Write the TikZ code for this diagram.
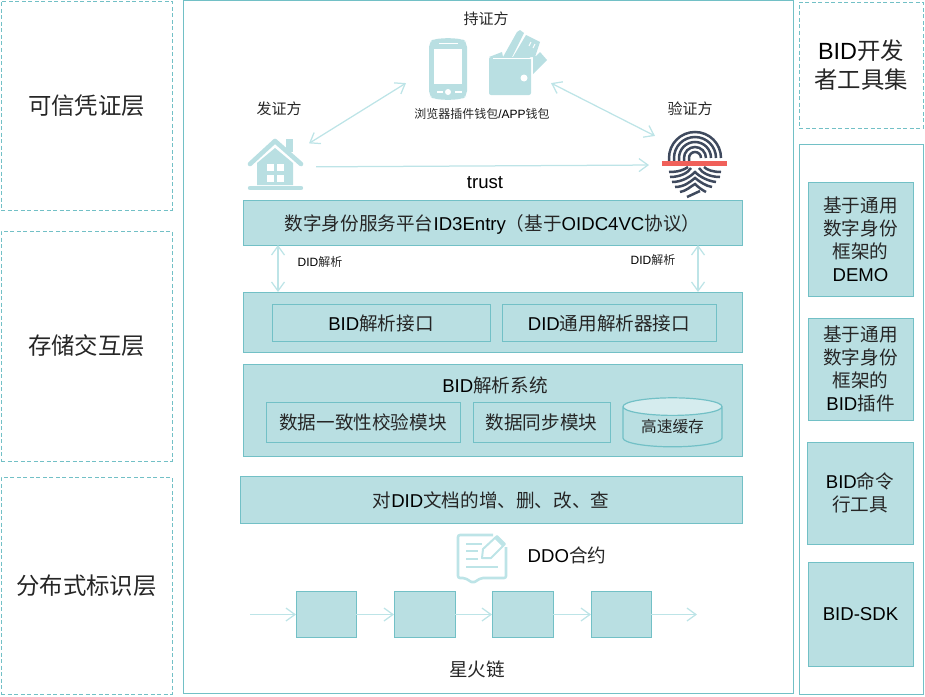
\documentclass[tikz,border=0pt]{standalone}
\usepackage{fontspec}
\setmainfont{Liberation Sans}
\newfontfamily\zhfont{Noto Sans CJK SC}
\usepackage{tikz}
\usetikzlibrary{arrows.meta,shapes.geometric}
\definecolor{bandfill}{HTML}{B9DFE2}
\definecolor{bandline}{HTML}{72C0C6}
\definecolor{arrowline}{HTML}{BDE4E7}
\definecolor{printdark}{HTML}{3F4A5E}
\definecolor{printred}{HTML}{F0605A}
\newcommand{\zh}[1]{{\zhfont\color{black!85}#1}}
\newcommand{\sizeA}{\fontsize{23.4}{29}\selectfont}
\newcommand{\sizeB}{\fontsize{18.6}{23}\selectfont}
\newcommand{\sizeC}{\fontsize{15}{18}\selectfont}
\newcommand{\sizeD}{\fontsize{12}{14}\selectfont}

\begin{document}
\begin{tikzpicture}
	[x=1pt, y=-1pt,
	layer/.style ={rectangle, draw=bandline, thick, dash pattern=on 4pt off 2.5pt, align=center, outer sep=0pt, inner sep=0pt, font=\sizeA},
	frame/.style ={rectangle, draw=bandline, thick, outer sep=0pt, inner sep=0pt},
	band/.style ={rectangle, draw=bandline, fill=bandfill, thick, align=center, outer sep=0pt, inner sep=0pt, font=\sizeB},
	oneline/.style ={text depth=0pt},
	lab/.style ={inner sep=0pt, align=center},
	icon/.style ={rectangle, inner sep=0pt, outer sep=0pt},
	line/.style ={draw=arrowline, line width=1.25pt, -{Straight Barb[length=9pt,width=13pt]}},
	dline/.style ={draw=arrowline, line width=1.25pt, {Straight Barb[length=9pt,width=13pt]}-{Straight Barb[length=9pt,width=13pt]}},
	glyph/.style ={fill=bandfill, draw=none},
	print/.style ={draw=printdark, line width=2.5pt},
	note/.style ={draw=arrowline, line width=2.6pt, line join=round}]
	\useasboundingbox (0,0) rectangle (925,696);
	% left layers
	\draw (86.5, 105.5) node[layer, minimum width=171, minimum height=209] (cred) {\zh{可信凭证层}};
	\draw (86.5, 346) node[layer, minimum width=171, minimum height=230] (store) {\zh{存储交互层}};
	\draw (86.5, 585.5) node[layer, minimum width=171, minimum height=217] (ident) {\zh{分布式标识层}};
	% main frame
	\draw (488, 346.5) node[frame, minimum width=610, minimum height=693] (main) {};
	\draw (492.5, 222.5) node[band, oneline, minimum width=499, minimum height=45] (entry) {\zh{数字身份服务平台}ID3Entry\zh{（基于}OIDC4VC\zh{协议）}};
	\draw (492.5, 322) node[band, minimum width=499, minimum height=60] (parse) {};
	\draw (381, 322.5) node[band, oneline, minimum width=218, minimum height=37] (bidapi) {BID\zh{解析接口}};
	\draw (609, 322.5) node[band, oneline, minimum width=214, minimum height=37] (didapi) {DID\zh{通用解析器接口}};
	\draw (492.5, 410) node[band, minimum width=499, minimum height=92] (sys) {};
	\draw (495, 385) node[lab, font=\sizeB] (systitle) {BID\zh{解析系统}};
	\draw (363, 422) node[band, minimum width=194, minimum height=40] (check) {\zh{数据一致性校验模块}};
	\draw (541.5, 422) node[band, minimum width=137, minimum height=40] (sync) {\zh{数据同步模块}};
	\draw (672.5, 427) node[cylinder, shape border rotate=90, aspect=0.28, draw=bandline, line width=1.2pt, cylinder uses custom fill, cylinder body fill=bandfill, cylinder end fill=bandfill!60, minimum width=99, minimum height=49, inner sep=0pt, outer sep=0pt, font=\fontsize{15.7}{18}\selectfont] (cache) {\zh{高速缓存}};
	\draw (491, 499.5) node[band, oneline, minimum width=502, minimum height=47] (crud) {\zh{对}DID\zh{文档的增、删、改、查}};
	% right column
	\draw (861, 65) node[layer, minimum width=124, minimum height=126] (kit) {BID\zh{开发}\\\zh{者工具集}};
	\draw (861, 419) node[frame, minimum width=124, minimum height=550] (kitlist) {};
	\draw (860.5, 239) node[band, minimum width=105, minimum height=114] (demo) {\zh{基于通用}\\\zh{数字身份}\\\zh{框架的}\\DEMO};
	\draw (860.5, 369) node[band, minimum width=105, minimum height=102] (plugin) {\zh{基于通用}\\\zh{数字身份}\\\zh{框架的}\\BID\zh{插件}};
	\draw (860, 493) node[band, minimum width=106, minimum height=102] (cli) {BID\zh{命令}\\\zh{行工具}};
	\draw (860.5, 614) node[band, minimum width=105, minimum height=104] (sdk) {BID-SDK};
	% roles
	\draw (486, 18.5) node[lab, font=\sizeC] (holdlab) {\zh{持证方}};
	\draw (279, 108.5) node[lab, font=\sizeC] (issuelab) {\zh{发证方}};
	\draw (690, 108.5) node[lab, font=\sizeC] (verifylab) {\zh{验证方}};
	\draw (482, 114) node[lab, font=\sizeD] (walletlab) {\zh{浏览器插件钱包}/APP\zh{钱包}};
	\draw (485, 183) node[lab, font=\sizeB] (trustlab) {trust};
	\draw (320, 262) node[lab, font=\sizeD] (didl) {DID\zh{解析}};
	\draw (653, 260) node[lab, font=\sizeD] (didr) {DID\zh{解析}};
	\draw (567, 555) node[lab, font=\sizeB] (ddolab) {DDO\zh{合约}};
	\draw (477, 669) node[lab, font=\sizeB] (chainlab) {\zh{星火链}};
	\draw (276, 164) node[icon, minimum width=66, minimum height=52] (house) {};
	\draw (478.5, 65) node[icon, minimum width=145, minimum height=70] (holder) {};
	\draw (695, 165) node[icon, minimum width=80, minimum height=64] (finger) {};
	% house
	\fill[glyph] (257,163) -- (275,148) -- (293,163) -- (293,185) -- (257,185) -- cycle;
	\fill[glyph] (286,139) rectangle (293,152);
	\draw[draw=bandfill, line width=4.6pt, line cap=round, line join=round] (250,164) -- (275,141) -- (301,164);
	\draw[draw=bandfill, line width=4.4pt, line cap=round] (250,188) -- (301,188);
	\foreach \wx in {267,277}
		\foreach \wy in {164,175}
			\fill[white] (\wx,\wy) rectangle (\wx+7,\wy+7);
	% phone
	\fill[glyph, rounded corners=5pt] (429,42) -- (434,39) -- (448,38) -- (462,39) -- (467,42) -- (467,96) -- (462,99) -- (448,100) -- (434,99) -- (429,96) -- cycle;
	\fill[white] (434,49) rectangle (462,84);
	\draw[white, line width=1.2pt] (439,43.5) -- (458,43.5) (437,92) -- (443,92) (455,92) -- (462,92);
	\fill[white] (448,92) circle[radius=3];
	% wallet
	\fill[glyph] (503,57) -- (517,32) -- (520,30) -- (524,33) -- (512,57) -- cycle;
	\fill[glyph] (513,57) -- (526,35) -- (540,42) -- (535,57) -- cycle;
	\draw[white, line width=1pt] (529,46) -- (531,42) (533,48) -- (535,44);
	\fill[glyph] (536,56) -- (540,52) -- (547,60) -- (533,74) -- (533,56) -- cycle;
	\fill[glyph] (489,57) -- (502,52) -- (503,57) -- cycle;
	\fill[glyph, rounded corners=2pt] (489,57) rectangle (531,95);
	\draw[white, line width=0.8pt] (493,58) -- (531,58);
	\fill[white] (524,78) circle[radius=3.5];
	% fingerprint
	\foreach \r in {26,21,16,11,6}
		\draw[print] (695-\r,163) -- (695-\r,158) arc[start angle=180, end angle=360, radius=\r];
	\draw[print] (669,172) .. controls (678,172) and (684,170) .. (688,167);
	\draw[print] (670,177) .. controls (680,177) and (688,173) .. (691,168);
	\draw[print] (721,172) .. controls (713,172) and (707,170) .. (704,167);
	\draw[print] (720,177) .. controls (710,177) and (702,173) .. (699,168);
	\draw[print] (672,182) .. controls (682,182) and (690,177) .. (695,172) .. controls (700,177) and (708,181) .. (716,182);
	\draw[print] (675,187) .. controls (684,187) and (690,182) .. (695,178) .. controls (700,182) and (706,186) .. (712,187);
	\draw[print] (680,192) .. controls (686,191) and (690,187) .. (695,184) .. controls (698,187) and (702,190) .. (706,192);
	\draw[print] (687,197) -- (700,191);
	\fill[printred] (662,161) rectangle (727,166);
	% contract
	\draw[note, rounded corners=2pt] (493,535) -- (458,535) -- (458,578) -- (465,578) -- (473,583) -- (481,578) -- (506,578) -- (506,547);
	\draw[note] (466,544) -- (482,544) (466,551) -- (478,551) (466,559) -- (478,559) (466,567) -- (498,567);
	\draw[note, line width=2pt] (482,558) -- (483,549) -- (497,536) -- (505,544) -- (491,558) -- cycle;
	\fill[arrowline] (495,539) -- (497,536) -- (505,544) -- (502,546) -- cycle;
	% chain
	\draw (326, 614.5) node[band, minimum width=60, minimum height=46] (blockA) {};
	\draw (424.5, 614.5) node[band, minimum width=61, minimum height=46] (blockB) {};
	\draw (522.5, 614.5) node[band, minimum width=61, minimum height=46] (blockC) {};
	\draw (621, 614.5) node[band, minimum width=60, minimum height=46] (blockD) {};
	\coordinate (chainin) at (250, 614.5);
	\coordinate (chainout) at (697, 614.5);
	\coordinate (didlx) at (278, 0);
	\coordinate (didrx) at (698, 0);
	% connectors
	\draw[dline] (house.32.5) -- (holder.194.7);
	\draw[dline] (holder.-14.7) -- (finger.144);
	\draw[line, shorten <=7pt, shorten >=6pt] (house.-5) -- (finger.west);
	\draw[dline] (entry.south -| didlx) -- (parse.north -| didlx);
	\draw[dline] (entry.south -| didrx) -- (parse.north -| didrx);
	\draw[line] (chainin) -- (blockA);
	\draw[line] (blockA) -- (blockB);
	\draw[line] (blockB) -- (blockC);
	\draw[line] (blockC) -- (blockD);
	\draw[line] (blockD) -- (chainout);
\end{tikzpicture}
\end{document}
